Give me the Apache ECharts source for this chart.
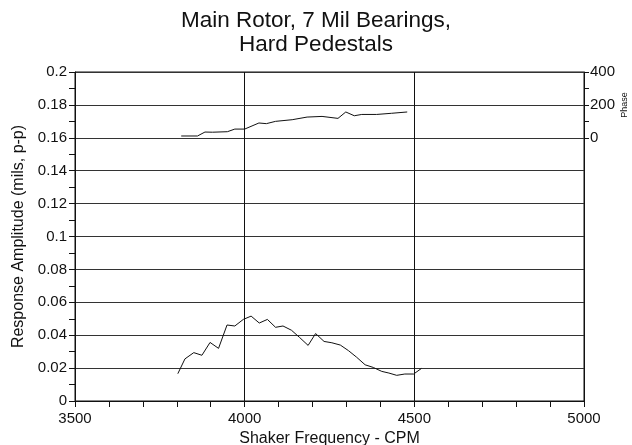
<!DOCTYPE html>
<html>
<head>
<meta charset="utf-8">
<script src="https://cdn.jsdelivr.net/npm/echarts@6/dist/echarts.min.js"></script>
<style>
  html, body { margin: 0; padding: 0; background: #fff; }
  #chart { width: 632px; height: 445px; }
</style>
</head>
<body>
<div id="chart"></div>
<script>
// Shaker sweep: response amplitude (mils, p-p) versus frequency (CPM)
const ampFreq = [3803, 3824, 3850, 3874, 3898, 3923, 3948, 3971, 3996, 4019, 4043, 4067, 4091, 4113, 4138, 4162,
                 4187, 4209, 4234, 4257, 4282, 4306, 4330, 4355, 4379, 4404, 4425, 4448, 4472, 4498, 4521];
const ampValues = [0.0166, 0.0256, 0.0294, 0.0278, 0.0356, 0.032, 0.0462, 0.0456, 0.0496, 0.0516, 0.0474, 0.0496,
                   0.0448, 0.0456, 0.043, 0.0386, 0.0338, 0.041, 0.0362, 0.0354, 0.034, 0.0306, 0.0266, 0.022,
                   0.0204, 0.018, 0.017, 0.0156, 0.0164, 0.0164, 0.0198];

// Phase (degrees) over the same sweep
const phaseFreq = [3813, 3861, 3883, 3905, 3949, 3971, 4000, 4042, 4064, 4091, 4140, 4184, 4228, 4275, 4298,
                   4323, 4345, 4389, 4433, 4479];
const phaseValues = [11, 11, 35, 34, 37, 53, 53, 90, 86, 100, 110, 126, 130, 118, 157, 134, 142, 142, 149, 157];

const xTicks = { min: 3500, max: 5000, step: 500 };
const ampTicks = { min: 0, max: 0.2, step: 0.02 };
const phaseTicks = { min: 0, max: 400, step: 100 };

const FONT = '"Liberation Sans", Arial, Helvetica, sans-serif';
const INK = '#111';

// Plot area in pixels; the phase panel shares the top band of the amplitude grid
const plot = { left: 75, right: 48, top: 72, bottom: 44 };
const plotH = 445 - plot.top - plot.bottom;
const phaseH = plotH * (ampTicks.max - 0.16) / (ampTicks.max - ampTicks.min);

const chart = echarts.init(document.getElementById('chart'), null, { renderer: 'canvas' });

chart.setOption({
  animation: false,
  backgroundColor: '#fff',
  title: {
    text: 'Main Rotor, 7 Mil Bearings,\nHard Pedestals',
    left: 'center',
    top: 4,
    textStyle: { fontFamily: FONT, fontSize: 22.5, fontWeight: 'normal', color: INK, lineHeight: 24 }
  },
  grid: [
    { left: plot.left, right: plot.right, top: plot.top, bottom: plot.bottom,
      containLabel: false, outerBoundsMode: 'none',
      show: true, borderColor: INK, borderWidth: 1, backgroundColor: 'transparent' },
    { left: plot.left, right: plot.right, top: plot.top, height: phaseH,
      containLabel: false, outerBoundsMode: 'none', show: false }
  ],
  xAxis: [
    {
      gridIndex: 0, type: 'value', min: xTicks.min, max: xTicks.max, interval: xTicks.step,
      name: 'Shaker Frequency - CPM', nameLocation: 'middle', nameGap: 28,
      nameTextStyle: { fontFamily: FONT, fontSize: 16, color: INK },
      axisLine: { show: true, lineStyle: { color: INK, width: 1 } },
      axisTick: { show: true, length: 6, inside: false, lineStyle: { color: INK } },
      minorTick: { show: true, splitNumber: 5, length: 6, lineStyle: { color: INK } },
      axisLabel: { fontFamily: FONT, fontSize: 15, color: INK, margin: 10, formatter: v => String(v) },
      splitLine: { show: true, lineStyle: { color: INK, width: 1 } }
    },
    {
      gridIndex: 1, type: 'value', min: xTicks.min, max: xTicks.max, show: false
    }
  ],
  yAxis: [
    {
      gridIndex: 0, type: 'value', position: 'left',
      min: ampTicks.min, max: ampTicks.max, interval: ampTicks.step,
      name: 'Response Amplitude (mils, p-p)', nameLocation: 'middle', nameGap: 48,
      nameTextStyle: { fontFamily: FONT, fontSize: 16, color: INK },
      axisLine: { show: true, lineStyle: { color: INK, width: 1 } },
      axisTick: { show: true, length: 6, lineStyle: { color: INK } },
      minorTick: { show: true, splitNumber: 2, length: 6, lineStyle: { color: INK } },
      axisLabel: { fontFamily: FONT, fontSize: 15, color: INK, margin: 8 },
      splitLine: { show: true, lineStyle: { color: '#333', width: 1 } }
    },
    {
      gridIndex: 1, type: 'value', position: 'right',
      min: phaseTicks.min, max: phaseTicks.max, interval: phaseTicks.step,
      name: 'Phase', nameLocation: 'middle', nameGap: 36, nameRotate: 90, nameMoveOverlap: false,
      nameTextStyle: { fontFamily: FONT, fontSize: 9, color: INK },
      axisLine: { show: true, lineStyle: { color: INK, width: 1 } },
      axisTick: { show: true, inside: false, length: 5, lineStyle: { color: INK } },
      axisLabel: {
        fontFamily: FONT, fontSize: 15, color: INK, margin: 6,
        formatter: v => (v % 200 === 0 ? String(v) : '')
      },
      splitLine: { show: false }
    }
  ],
  series: [
    {
      name: 'Amplitude', type: 'line', xAxisIndex: 0, yAxisIndex: 0,
      data: ampFreq.map((f, i) => [f, ampValues[i]]),
      showSymbol: false, symbol: 'none',
      lineStyle: { color: INK, width: 1 }
    },
    {
      name: 'Phase', type: 'line', xAxisIndex: 1, yAxisIndex: 1,
      data: phaseFreq.map((f, i) => [f, phaseValues[i]]),
      showSymbol: false, symbol: 'none',
      lineStyle: { color: INK, width: 1 }
    }
  ]
});
</script>
</body>
</html>
